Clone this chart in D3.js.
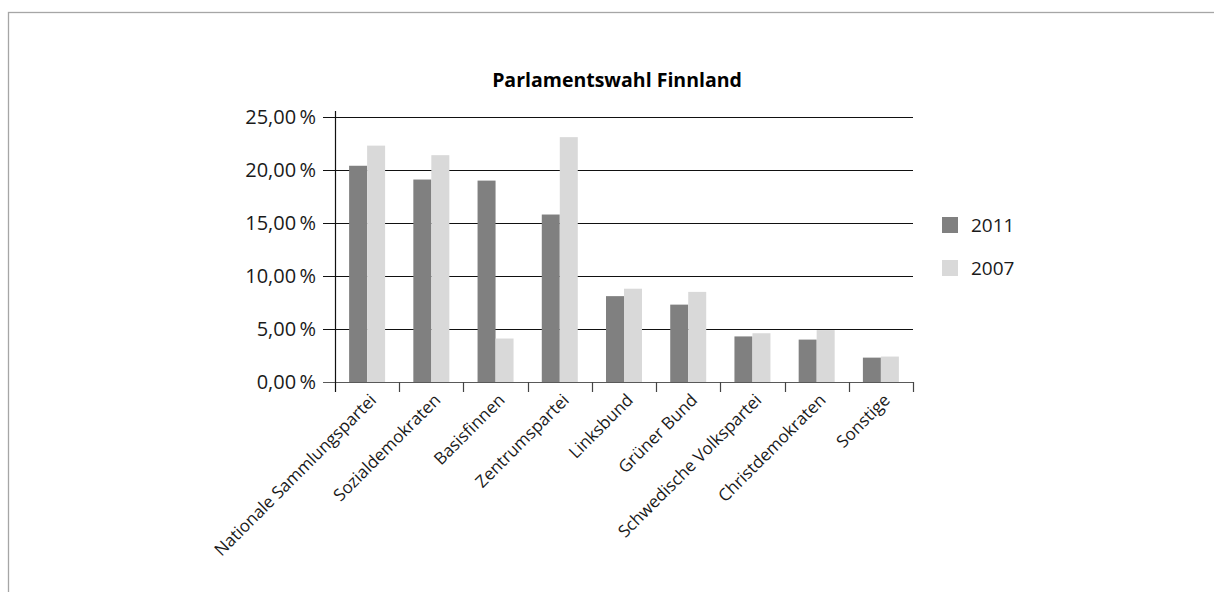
<!DOCTYPE html>
<html>
<head>
<meta charset="utf-8">
<script src="https://cdn.jsdelivr.net/npm/d3@7"></script>
<style>
  body { margin: 0; background: #fff; }
  text { font-family: "Open Sans", "Noto Sans", sans-serif; fill: #1a1a1a; }
</style>
</head>
<body>
<script>
(function(){

//chart data
var parties = ["Nationale Sammlungspartei", "Sozialdemokraten", "Basisfinnen", "Zentrumspartei",
               "Linksbund", "Grüner Bund", "Schwedische Volkspartei", "Christdemokraten", "Sonstige"];
var years = ["2011", "2007"];
var votes2011 = [20.4, 19.1, 19.0, 15.8, 8.1, 7.3, 4.3, 4.0, 2.3];
var votes2007 = [22.3, 21.4, 4.1, 23.1, 8.8, 8.5, 4.6, 4.9, 2.4];
var yTicks = [0, 5, 10, 15, 20, 25];
var colors = ["#808080", "#d9d9d9"];

var width = 1214,
    height = 592;

var svg = d3.select("body")
    .append("svg")
    .attr("width", width)
    .attr("height", height);

//outer frame
svg.append("rect")
    .attr("x", 8.5)
    .attr("y", 12.5)
    .attr("width", 1220)
    .attr("height", 600)
    .attr("fill", "none")
    .attr("stroke", "#a6a6a6")
    .attr("stroke-width", 1.3);

var plot = {left: 335, right: 913, top: 117, bottom: 382};

var x0 = d3.scaleBand()
    .domain(parties)
    .range([plot.left, plot.right])
    .paddingInner(0)
    .paddingOuter(0);

var x1 = d3.scaleBand()
    .domain(years)
    .range([0, 36]);

var y = d3.scaleLinear()
    .domain([0, 25])
    .range([plot.bottom, plot.top]);

var fmt = function(d){ return d3.format(".2f")(d).replace(".", ",") + "\u2009%"; };

//gridlines with left tick stubs
svg.append("g")
    .selectAll("line")
    .data(yTicks)
    .enter()
    .append("line")
    .attr("x1", plot.left - 12)
    .attr("x2", plot.right)
    .attr("y1", function(d){ return Math.round(y(d)) + 0.5; })
    .attr("y2", function(d){ return Math.round(y(d)) + 0.5; })
    .attr("stroke", function(d){ return d === 0 ? "#595959" : "#111"; })
    .attr("stroke-width", 1.2);

//y labels
svg.append("g")
    .selectAll("text")
    .data(yTicks)
    .enter()
    .append("text")
    .attr("x", plot.left - 19)
    .attr("y", function(d){ return y(d); })
    .attr("dy", "0.35em")
    .attr("text-anchor", "end")
    .style("font-size", "20px")
    .text(fmt);

//bars
var series = [votes2011, votes2007];
var groups = svg.append("g")
    .selectAll("g")
    .data(parties)
    .enter()
    .append("g")
    .attr("transform", function(d){
        return "translate(" + (x0(d) + x0.bandwidth() / 2 - 18) + ",0)";
    });

groups.selectAll("rect")
    .data(function(d, i){
        return years.map(function(yr, j){ return {year: yr, value: series[j][i]}; });
    })
    .enter()
    .append("rect")
    .attr("x", function(d){ return x1(d.year); })
    .attr("width", x1.bandwidth())
    .attr("y", function(d){ return y(d.value); })
    .attr("height", function(d){ return plot.bottom - y(d.value); })
    .attr("fill", function(d, j){ return colors[j]; });

//y axis line
svg.append("line")
    .attr("x1", plot.left + 0.5).attr("x2", plot.left + 0.5)
    .attr("y1", plot.top - 6).attr("y2", plot.bottom + 10)
    .attr("stroke", "#111").attr("stroke-width", 1.2);

//x category boundary ticks
var bounds = parties.map(function(p){ return x0(p); }).concat([plot.right]);
svg.append("g")
    .selectAll("line")
    .data(bounds.slice(1))
    .enter()
    .append("line")
    .attr("x1", function(d){ return Math.round(d) + 0.5; })
    .attr("x2", function(d){ return Math.round(d) + 0.5; })
    .attr("y1", plot.bottom)
    .attr("y2", plot.bottom + 10)
    .attr("stroke", "#444")
    .attr("stroke-width", 1.2);

//category labels
svg.append("g")
    .selectAll("text")
    .data(parties)
    .enter()
    .append("text")
    .attr("transform", function(d){
        return "translate(" + (x0(d) + x0.bandwidth() / 2 + 6) + "," + (plot.bottom + 15) + ") rotate(-45)";
    })
    .attr("text-anchor", "end")
    .attr("dy", "0.35em")
    .style("font-size", "17px")
    .text(function(d){ return d; });

//title
svg.append("text")
    .attr("x", 617)
    .attr("y", 87)
    .attr("text-anchor", "middle")
    .style("font-size", "19.5px")
    .style("font-weight", "bold")
    .style("fill", "#000")
    .text("Parlamentswahl Finnland");

//legend
var legend = svg.append("g")
    .selectAll("g")
    .data(years)
    .enter()
    .append("g")
    .attr("transform", function(d, i){ return "translate(942," + (217 + i * 43) + ")"; });

legend.append("rect")
    .attr("width", 16)
    .attr("height", 16)
    .attr("fill", function(d, i){ return colors[i]; });

legend.append("text")
    .attr("x", 29)
    .attr("y", 8)
    .attr("dy", "0.35em")
    .style("font-size", "19px")
    .text(function(d){ return d; });

})();
</script>
</body>
</html>
